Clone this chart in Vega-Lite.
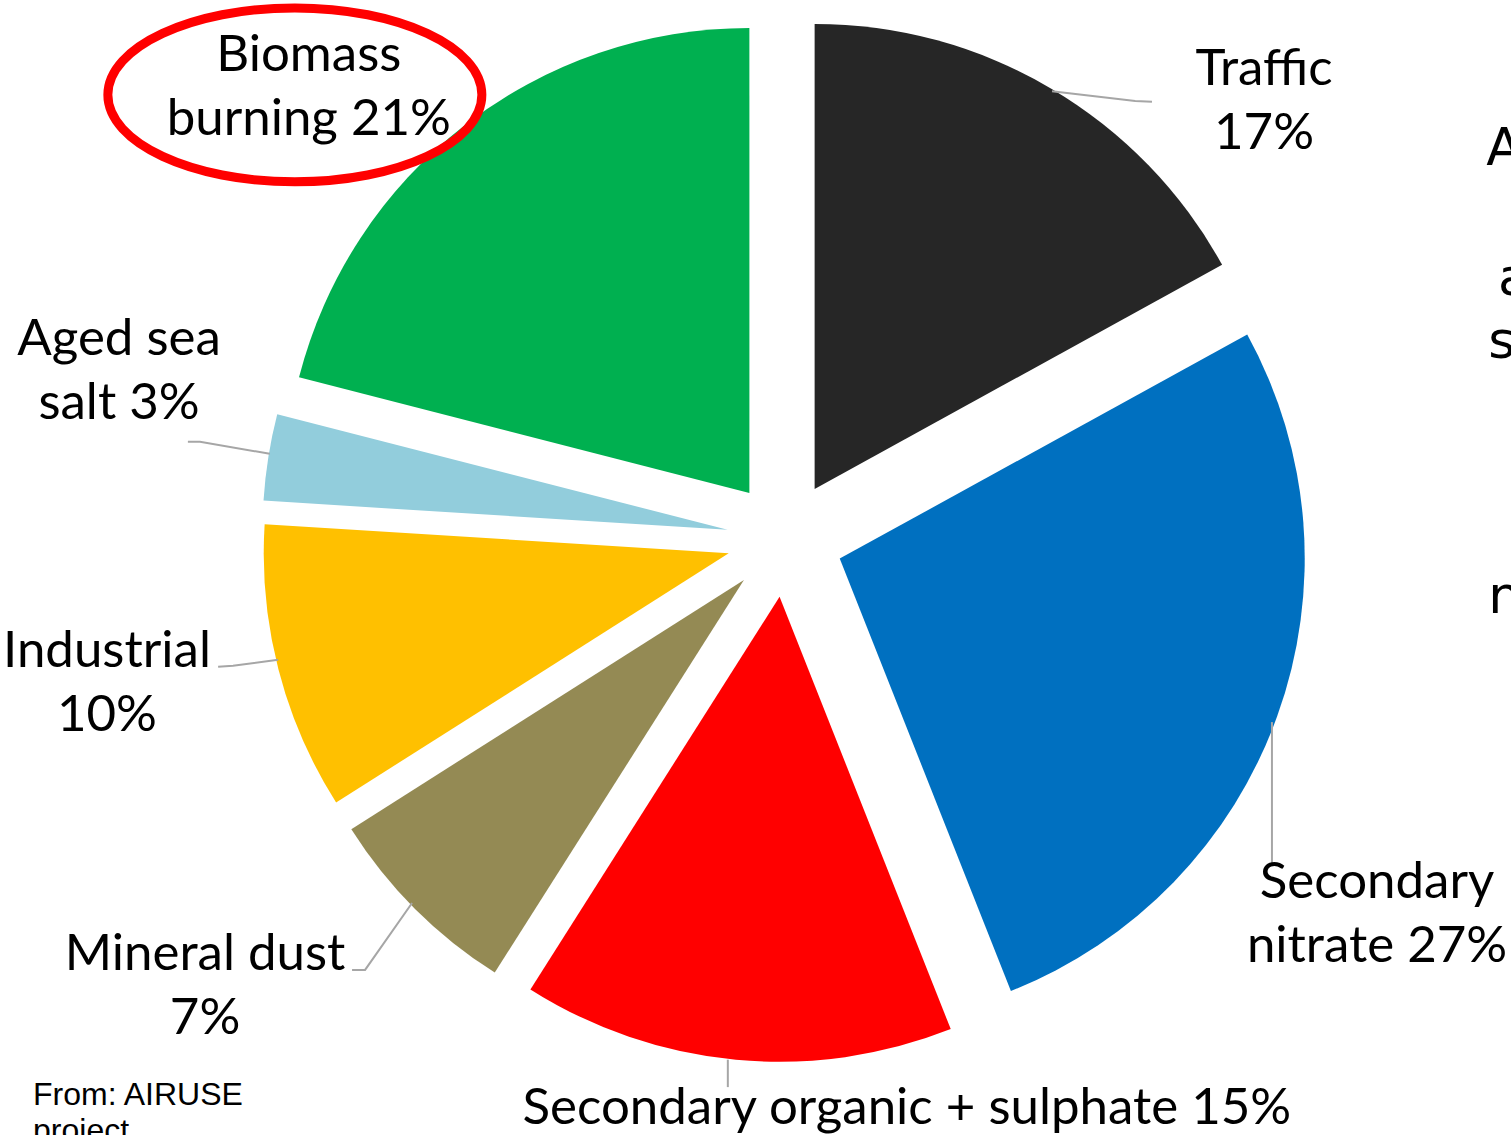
{
  "$schema": "https://vega.github.io/schema/vega-lite/v6.json",
  "width": 1511,
  "height": 1135,
  "autosize": {"type": "none"},
  "padding": 0,
  "background": "white",
  "config": {"view": {"stroke": null}},
  "datasets": {
    "sources": [
      {"order": 1, "source": "Traffic", "pct": 17},
      {"order": 2, "source": "Secondary nitrate", "pct": 27},
      {"order": 3, "source": "Secondary organic + sulphate", "pct": 15},
      {"order": 4, "source": "Mineral dust", "pct": 7},
      {"order": 5, "source": "Industrial", "pct": 10},
      {"order": 6, "source": "Aged sea salt", "pct": 3},
      {"order": 7, "source": "Biomass burning", "pct": 21}
    ],
    "labels": [
      {"source": "Traffic", "text": "Traffic\n17%", "lx": 103.0, "ly": 100.9},
      {"source": "Secondary nitrate", "text": "Secondary\nnitrate 27%", "lx": 127.3, "ly": -74.0},
      {"source": "Secondary organic + sulphate", "text": "Secondary organic + sulphate 15%", "lx": 26.2, "ly": -122.6},
      {"source": "Mineral dust", "text": "Mineral dust\n7%", "lx": -124.7, "ly": -89.4},
      {"source": "Industrial", "text": "Industrial\n10%", "lx": -145.8, "ly": -24.3},
      {"source": "Aged sea salt", "text": "Aged sea\nsalt 3%", "lx": -143.2, "ly": 42.8},
      {"source": "Biomass burning", "text": "Biomass\nburning 21%", "lx": -102.4, "ly": 103.9}
    ],
    "leaders": [
      {"source": "Traffic", "step": 1, "lx": 57.4, "ly": 96.3},
      {"source": "Traffic", "step": 2, "lx": 75.3, "ly": 94.2},
      {"source": "Traffic", "step": 3, "lx": 78.9, "ly": 94.0},
      {"source": "Secondary nitrate", "step": 1, "lx": 104.7, "ly": -39.4},
      {"source": "Secondary nitrate", "step": 2, "lx": 104.7, "ly": -69.7},
      {"source": "Secondary organic + sulphate", "step": 1, "lx": -12.3, "ly": -112.0},
      {"source": "Secondary organic + sulphate", "step": 2, "lx": -12.3, "ly": -117.9},
      {"source": "Mineral dust", "step": 1, "lx": -80.2, "ly": -78.3},
      {"source": "Mineral dust", "step": 2, "lx": -90.3, "ly": -92.7},
      {"source": "Mineral dust", "step": 3, "lx": -93.1, "ly": -92.7},
      {"source": "Industrial", "step": 1, "lx": -109.0, "ly": -26.0},
      {"source": "Industrial", "step": 2, "lx": -118.7, "ly": -27.3},
      {"source": "Industrial", "step": 3, "lx": -121.9, "ly": -27.5},
      {"source": "Aged sea salt", "step": 1, "lx": -110.8, "ly": 18.3},
      {"source": "Aged sea salt", "step": 2, "lx": -125.8, "ly": 20.9},
      {"source": "Aged sea salt", "step": 3, "lx": -128.4, "ly": 20.9}
    ],
    "highlight": [
      {"note": "Biomass burning", "lx": -105.4, "ly": 95.5}
    ],
    "footnote": [
      {"text": "From: AIRUSE\nproject", "lx": -161.7, "ly": -121.7}
    ],
    "fragments": [
      {"text": "A", "lx": 150.8, "ly": 80.4},
      {"text": "a", "lx": 153.3, "ly": 52.5},
      {"text": "s", "lx": 151.2, "ly": 38.9},
      {"text": "n", "lx": 151.2, "ly": -15.9}
    ]
  },
  "layer": [
    {
      "data": {"name": "sources"},
      "transform": [
        {"stack": "pct", "groupby": [], "sort": [{"field": "order", "order": "ascending"}], "as": ["p0", "p1"]},
        {"calculate": "(datum.p0 + datum.p1) * PI / 100", "as": "mid"},
        {"calculate": "12.5 * sin(datum.mid)", "as": "cx"},
        {"calculate": "12.5 * cos(datum.mid)", "as": "cy"}
      ],
      "mark": {"type": "arc", "outerRadius": 465, "innerRadius": 0, "stroke": null},
      "encoding": {
        "theta": {"field": "p0", "type": "quantitative", "scale": {"domain": [0, 100], "range": [0, 6.283185307179586]}},
        "theta2": {"field": "p1"},
        "x": {"field": "cx", "type": "quantitative", "scale": {"domain": [-168.8, 156.1], "nice": false, "zero": false}, "axis": null},
        "y": {"field": "cy", "type": "quantitative", "scale": {"domain": [-128.2, 115.9], "nice": false, "zero": false}, "axis": null},
        "color": {
          "field": "source", "type": "nominal", "legend": null,
          "scale": {
            "domain": ["Traffic", "Secondary nitrate", "Secondary organic + sulphate", "Mineral dust", "Industrial", "Aged sea salt", "Biomass burning"],
            "range": ["#262626", "#0070C0", "#FF0000", "#948A54", "#FFC000", "#92CDDC", "#00B050"]
          }
        }
      }
    },
    {
      "data": {"name": "leaders"},
      "mark": {"type": "line", "stroke": "#A6A6A6", "strokeWidth": 2, "interpolate": "linear"},
      "encoding": {
        "x": {"field": "lx", "type": "quantitative"},
        "y": {"field": "ly", "type": "quantitative"},
        "detail": {"field": "source"},
        "order": {"field": "step", "type": "quantitative"}
      }
    },
    {
      "data": {"name": "labels"},
      "mark": {"type": "text", "font": "Lato", "fontSize": 51, "lineHeight": 64, "lineBreak": "\n", "align": "center", "baseline": "middle", "color": "black"},
      "encoding": {
        "x": {"field": "lx", "type": "quantitative"},
        "y": {"field": "ly", "type": "quantitative"},
        "text": {"field": "text"}
      }
    },
    {
      "data": {"name": "highlight"},
      "mark": {"type": "point", "shape": "M -1 0 A 1 0.465 0 1 0 1 0 A 1 0.465 0 1 0 -1 0 Z", "size": 139876, "filled": false, "stroke": "#FF0000", "strokeWidth": 9, "opacity": 1},
      "encoding": {
        "x": {"field": "lx", "type": "quantitative"},
        "y": {"field": "ly", "type": "quantitative"}
      }
    },
    {
      "data": {"name": "footnote"},
      "mark": {"type": "text", "font": "Liberation Sans", "fontSize": 32, "lineHeight": 36, "lineBreak": "\n", "align": "left", "baseline": "alphabetic", "color": "black"},
      "encoding": {
        "x": {"field": "lx", "type": "quantitative"},
        "y": {"field": "ly", "type": "quantitative"},
        "text": {"field": "text"}
      }
    },
    {
      "data": {"name": "fragments"},
      "mark": {"type": "text", "font": "DejaVu Sans", "fontSize": 52, "align": "left", "baseline": "alphabetic", "color": "black"},
      "encoding": {
        "x": {"field": "lx", "type": "quantitative"},
        "y": {"field": "ly", "type": "quantitative"},
        "text": {"field": "text"}
      }
    }
  ]
}
